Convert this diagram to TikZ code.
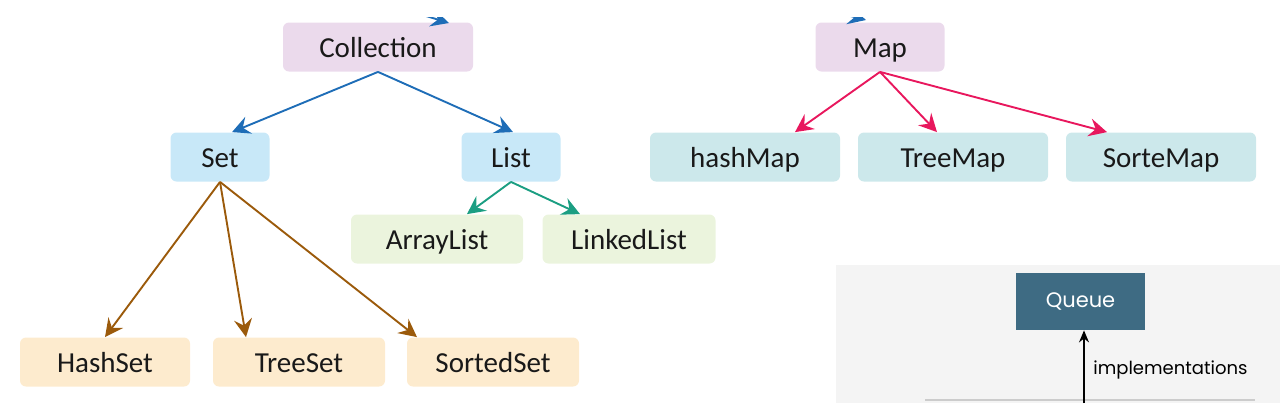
\documentclass[tikz,border=0pt]{standalone}
\usepackage{fontspec}
\setmainfont{Carlito}
\newfontfamily\queuefont{Poppins}
\usetikzlibrary{arrows.meta}
\definecolor{topfill}{HTML}{EBDAEC}
\definecolor{setfill}{HTML}{C8E8F8}
\definecolor{mapfill}{HTML}{CCE8EB}
\definecolor{listfill}{HTML}{EBF4DD}
\definecolor{leaffill}{HTML}{FDEBCE}
\definecolor{bluearr}{HTML}{1E6DB7}
\definecolor{pinkarr}{HTML}{E8175D}
\definecolor{tealarr}{HTML}{1B9E82}
\definecolor{brownarr}{HTML}{9B5A0B}
\definecolor{panelgray}{HTML}{F4F4F4}
\definecolor{queuefill}{HTML}{3E6B83}
\tikzset{
  box/.style={rounded corners=3pt, minimum height=24.5pt, inner sep=0pt,
    text height=1.2em, text depth=0.2em,
    text=black!90, font=\fontsize{14.5}{16}\selectfont},
  link/.style={line width=0.95pt, -{Stealth[length=9pt,width=9pt,inset=3.2pt]}}
}
\begin{document}
\begin{tikzpicture}[x=0.5pt,y=-0.5pt]
        \useasboundingbox (0,0) rectangle (1280,403);
        % top level
        \node[box, fill=topfill, minimum width=95pt] (coll) at (378,47) {Collection};
        \node[box, fill=topfill, minimum width=64.5pt] (map) at (880,47) {Map};
        % second level
        \node[box, fill=setfill, minimum width=49.5pt] (set) at (220,157) {Set};
        \node[box, fill=setfill, minimum width=49.5pt] (list) at (511,157) {List};
        \node[box, fill=mapfill, minimum width=95pt] (hmap) at (745,157) {hashMap};
        \node[box, fill=mapfill, minimum width=95pt] (tmap) at (953,157) {TreeMap};
        \node[box, fill=mapfill, minimum width=95pt] (smap) at (1161,157) {SorteMap};
        % lists
        \node[box, fill=listfill, minimum width=86pt] (alist) at (437,239) {ArrayList};
        \node[box, fill=listfill, minimum width=86.5pt] (llist) at (629,239) {LinkedList};
        % sets
        \node[box, fill=leaffill, minimum width=85pt] (hset) at (105,362) {HashSet};
        \node[box, fill=leaffill, minimum width=86pt] (tset) at (299,362) {TreeSet};
        \node[box, fill=leaffill, minimum width=86pt] (sset) at (493,362) {SortedSet};
        % connectors
        \draw[link, bluearr] (coll.south) -- ([xshift=6pt]set.north);
        \draw[link, bluearr] (coll.south) -- ([xshift=1pt]list.north);
        \draw[link, pinkarr] (map.south) -- ([xshift=25pt]hmap.north);
        \draw[link, pinkarr] (map.south) -- ([xshift=-8pt]tmap.north);
        \draw[link, pinkarr] (map.south) -- ([xshift=-27pt]smap.north);
        \draw[link, tealarr] (list.south) -- ([xshift=15pt]alist.north);
        \draw[link, tealarr] (list.south) -- ([xshift=-24.5pt]llist.north);
        \draw[link, brownarr] (set.south) -- (hset.north);
        \draw[link, brownarr] (set.south) -- ([xshift=-26.5pt]tset.north);
        \draw[link, brownarr] (set.south) -- ([xshift=-38pt]sset.north);
        % cut arrows at the top edge
        \begin{scope}
          \clip (0,17) rectangle (1280,30);
          \coordinate (cutA) at (400,8);
          \coordinate (cutB) at (449,23);
          \coordinate (cutC) at (820,8);
          \coordinate (cutD) at (866,20);
          \draw[link, bluearr] (cutA) -- (cutB);
          \draw[link, bluearr] (cutC) -- (cutD);
        \end{scope}
        % queue panel
        \fill[panelgray] (836,265) rectangle (1280,403);
        \draw[black!20, line width=0.6pt] (925,400) -- (1255,400);
        \node[fill=queuefill, minimum width=64.5pt, minimum height=28.5pt, inner sep=0pt,
          text=white, font=\queuefont\fontsize{10.5}{12}\selectfont] (queue) at (1080.5,301.5) {Queue};
        \coordinate (qfoot) at (1084,403);
        \draw[line width=0.7pt, -{Stealth[length=6pt,width=5pt]}] (qfoot) -- (queue.south -| qfoot)
          node[pos=0.45, right=1pt, font=\queuefont\fontsize{9}{10}\selectfont] {implementations};
\end{tikzpicture}
\end{document}
